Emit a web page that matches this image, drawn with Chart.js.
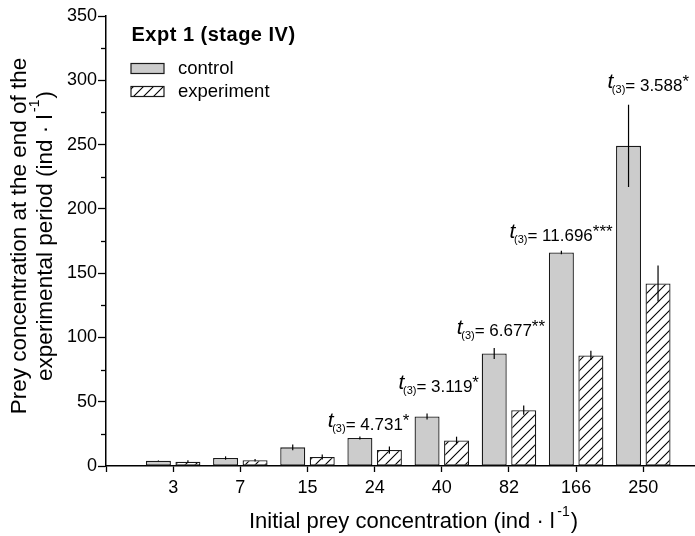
<!DOCTYPE html>
<html>
<head>
<meta charset="utf-8">
<script src="https://cdn.jsdelivr.net/npm/chart.js@4.4.1/dist/chart.umd.min.js"></script>
<style>
  html, body { margin: 0; padding: 0; background: #fff; }
  canvas { display: block; }
</style>
</head>
<body>
<canvas id="myChart" width="695" height="536"></canvas>
<script>
// initial prey concentrations (ind/l) and end-of-period means with errors
var concLabels = ['3', '7', '15', '24', '40', '82', '166', '250'];
var controlMean = [4.0, 6.2, 14.5, 21.8, 38.5, 87.5, 166.0, 249.0];
var controlErr = [0.3, 1.3, 2.2, 1.2, 2.4, 4.3, 1.4, 32.0];
var exptMean = [3.4, 4.5, 7.0, 12.4, 19.8, 43.4, 86.0, 142.0];
var exptErr = [1.0, 1.0, 2.0, 2.8, 3.0, 3.6, 3.6, 14.0];

// t-test results for the groups that differ
var tGroups = ['24', '40', '82', '166', '250'];
var tValues = ['4.731', '3.119', '6.677', '11.696', '3.588'];
var tStars = ['*', '*', '**', '***', '*'];

var FONT = "'Liberation Sans', Arial, sans-serif";

// diagonal hatch for the experiment bars
function makeHatch() {
  var c = document.createElement('canvas');
  c.width = 10; c.height = 10;
  var g = c.getContext('2d');
  g.fillStyle = '#fff';
  g.fillRect(0, 0, 10, 10);
  g.strokeStyle = '#000';
  g.lineWidth = 1.1;
  g.beginPath();
  g.moveTo(0, 10); g.lineTo(10, 0);
  g.moveTo(-2, 2); g.lineTo(2, -2);
  g.moveTo(8, 12); g.lineTo(12, 8);
  g.stroke();
  return g.createPattern(c, 'repeat');
}

// draws text pieces one after another on the same baseline
function drawRun(ctx, parts, x, y, align) {
  var w = 0;
  parts.forEach(function (p) {
    ctx.font = p.font;
    p.w = ctx.measureText(p.text).width * (p.adv || 1) + (p.pad || 0);
    w += p.w;
  });
  var cx = align === 'center' ? x - w / 2 : x;
  ctx.textAlign = 'left';
  ctx.textBaseline = 'alphabetic';
  parts.forEach(function (p) {
    ctx.font = p.font;
    ctx.fillText(p.text, cx + (p.pad || 0), y + (p.dy || 0));
    cx += p.w;
  });
}

function unitParts(size, before) {
  return [
    { text: before + ' (ind \u00B7 l', font: size + 'px ' + FONT },
    { text: '-1', font: '14px ' + FONT, dy: -12.5, pad: 2.5 },
    { text: ')', font: size + 'px ' + FONT, pad: 1 }
  ];
}

var errorBars = {
  id: 'errorBars',
  afterDatasetsDraw: function (chart) {
    var ctx = chart.ctx;
    var y = chart.scales.y;
    var errs = [controlErr, exptErr];
    ctx.save();
    ctx.strokeStyle = '#000';
    ctx.lineWidth = 1.2;
    chart.data.datasets.forEach(function (ds, di) {
      chart.getDatasetMeta(di).data.forEach(function (bar, i) {
        var v = ds.data[i].y;
        ctx.beginPath();
        ctx.moveTo(bar.x, y.getPixelForValue(v + errs[di][i]));
        ctx.lineTo(bar.x, y.getPixelForValue(Math.max(v - errs[di][i], 0)));
        ctx.stroke();
      });
    });
    ctx.restore();
  }
};

var decorations = {
  id: 'decorations',
  afterDraw: function (chart, args, opts) {
    var ctx = chart.ctx;
    var xs = chart.scales.x, ys = chart.scales.y;
    var area = chart.chartArea;
    ctx.save();
    ctx.fillStyle = '#000';

    // minor ticks on the y axis
    ctx.strokeStyle = '#000';
    ctx.lineWidth = 1.3;
    for (var v = 25; v < 350; v += 50) {
      var py = Math.round(ys.getPixelForValue(v)) + 0.5;
      ctx.beginPath();
      ctx.moveTo(area.left - 5, py);
      ctx.lineTo(area.left, py);
      ctx.stroke();
    }

    // t-test labels above the groups
    tGroups.forEach(function (g, k) {
      var i = concLabels.indexOf(g);
      var top = ys.getPixelForValue(controlMean[i] + controlErr[i]);
      var cx = xs.getPixelForValue(i + 1) + opts.tShift[k];
      drawRun(ctx, [
        { text: 't', font: 'italic 21px ' + FONT, dy: -2.5, adv: 0.75 },
        { text: '(3)', font: '11px ' + FONT, dy: 2.5 },
        { text: '= ' + tValues[k], font: '17px ' + FONT },
        { text: tStars[k], font: '17px ' + FONT, dy: -4 }
      ], cx, top - opts.tGap[k], 'center');
    });

    // x axis title
    drawRun(ctx, unitParts(22, 'Initial prey concentration'),
      (area.left + area.right) / 2 + 13, 528, 'center');

    // y axis title, two rotated lines
    ctx.save();
    ctx.translate(25.5, 236);
    ctx.rotate(-Math.PI / 2);
    ctx.font = '22.5px ' + FONT;
    ctx.textAlign = 'center';
    ctx.textBaseline = 'alphabetic';
    ctx.fillText('Prey concentration at the end of the', 0, 0);
    ctx.restore();
    ctx.save();
    ctx.translate(51.5, 236);
    ctx.rotate(-Math.PI / 2);
    drawRun(ctx, unitParts(22.5, 'experimental period'), 0, 0, 'center');
    ctx.restore();

    // legend
    ctx.font = 'bold 20px ' + FONT;
    ctx.letterSpacing = '0.5px';
    ctx.textAlign = 'left';
    ctx.fillText('Expt 1 (stage IV)', 131.5, 41);
    ctx.letterSpacing = '0px';
    chart.data.datasets.forEach(function (ds, di) {
      var by = 63.5 + di * 23;
      ctx.fillStyle = ds.backgroundColor;
      ctx.fillRect(131, by, 33, 10);
      ctx.strokeStyle = ds.borderColor;
      ctx.lineWidth = 1.2;
      ctx.strokeRect(131, by, 33, 10);
      ctx.fillStyle = '#000';
      ctx.font = '18.5px ' + FONT;
      ctx.fillText(ds.label, 178, by + 10);
    });
    ctx.restore();
  }
};

var ctx = document.getElementById('myChart').getContext('2d');
var myChart = new Chart(ctx, {
  type: 'bar',
  data: {
    datasets: [{
      label: 'control',
      data: controlMean.map(function (v, i) { return { x: i + 1, y: v }; }),
      backgroundColor: '#cccccc',
      borderColor: '#1a1a1a',
      borderWidth: 1.3,
      borderSkipped: false
    }, {
      label: 'experiment',
      data: exptMean.map(function (v, i) { return { x: i + 1, y: v }; }),
      backgroundColor: makeHatch(),
      borderColor: '#1a1a1a',
      borderWidth: 1.3,
      borderSkipped: false
    }]
  },
  options: {
    responsive: false,
    animation: false,
    devicePixelRatio: 1,
    categoryPercentage: 0.8786,
    barPercentage: 0.847,
    layout: { padding: { top: 16, right: 0, left: 0, bottom: 0 } },
    plugins: {
      legend: { display: false },
      tooltip: { enabled: false },
      decorations: {
        tShift: [-6, -3, -8, -15, 5],
        tGap: [6.5, 21.5, 11.5, 10, 14]
      }
    },
    scales: {
      x: {
        type: 'linear',
        offset: false,
        min: 0,
        max: 8.77,
        afterBuildTicks: function (scale) {
          scale.ticks = [0, 1, 2, 3, 4, 5, 6, 7, 8].map(function (v) { return { value: v }; });
        },
        afterFit: function (scale) { scale.height = 70; },
        ticks: {
          autoSkip: false,
          maxRotation: 0,
          padding: 5,
          color: '#000',
          font: { family: FONT, size: 18 },
          callback: function (v) { return v >= 1 ? concLabels[v - 1] : ''; }
        },
        grid: { offset: false, drawOnChartArea: false, tickLength: 6, tickColor: '#000', tickWidth: 1.3 },
        border: { color: '#000', width: 1.5 }
      },
      y: {
        min: 0,
        max: 350,
        afterFit: function (scale) { scale.width = 106; },
        ticks: {
          stepSize: 25,
          padding: 1,
          color: '#000',
          font: { family: FONT, size: 18 },
          callback: function (v) { return v % 50 === 0 ? v : ''; }
        },
        grid: {
          drawOnChartArea: false,
          tickLength: 8,
          tickWidth: 1.3,
          tickColor: function (c) { return c.tick && c.tick.value % 50 === 0 ? '#000' : 'rgba(0,0,0,0)'; }
        },
        border: { color: '#000', width: 1.5 }
      }
    }
  },
  plugins: [errorBars, decorations]
});
</script>
</body>
</html>
